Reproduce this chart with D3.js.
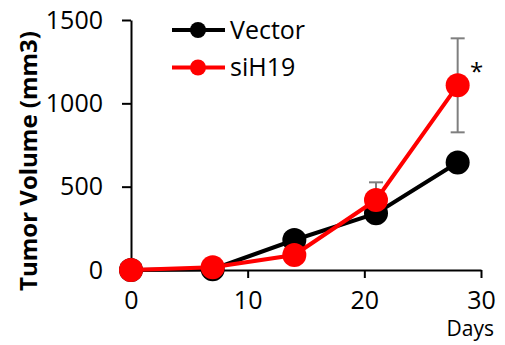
<!DOCTYPE html>
<html>
<head>
<meta charset="utf-8">
<script src="https://cdn.jsdelivr.net/npm/d3@7.9.0/dist/d3.min.js"></script>
<style>
  body { margin: 0; background: #fff; }
  text { font-family: 'Open Sans', sans-serif; }
</style>
</head>
<body>
<div id="chart"></div>
<script>
const days = [0, 7, 14, 21, 28];
const vector = [0, 5, 180, 340, 645];
const siH19 = [0, 16, 90, 420, 1108];
const siH19Err = [0, 0, 0, 106, 282];
const xTicks = [0, 10, 20, 30];
const yTicks = [0, 500, 1000, 1500];

const series = [
  { name: 'Vector', color: '#000000', values: vector },
  { name: 'siH19', color: '#ff0000', values: siH19 },
];

const width = 505;
const height = 345;
const margin = { top: 20, right: 24, bottom: 75, left: 131 };

const svg = d3
  .select('#chart')
  .append('svg')
  .attr('width', width)
  .attr('height', height);

const xScale = d3
  .scaleLinear()
  .domain([0, 30])
  .range([margin.left, width - margin.right]);

const yScale = d3
  .scaleLinear()
  .domain([0, 1500])
  .range([height - margin.bottom, margin.top]);

// axes
const xAxis = svg
  .append('g')
  .attr('transform', `translate(0, ${yScale(0)})`)
  .call(d3.axisBottom(xScale).tickValues(xTicks).tickFormat(d3.format('d'))
    .tickSize(8).tickPadding(12).tickSizeOuter(0));

const yAxis = svg
  .append('g')
  .attr('transform', `translate(${margin.left}, 0)`)
  .call(d3.axisLeft(yScale).tickValues(yTicks).tickFormat(d3.format('d'))
    .tickSize(9).tickPadding(19).tickSizeOuter(0));

[xAxis, yAxis].forEach((ax) => {
  ax.select('.domain').attr('stroke', '#000').attr('stroke-width', 2);
  ax.selectAll('.tick line').attr('stroke', '#000').attr('stroke-width', 2);
  ax.selectAll('.tick text')
    .attr('fill', '#000')
    .style('font-size', '25px');
});
xAxis.selectAll('.tick text').attr('dy', '0.75em');

// axis titles
svg
  .append('text')
  .attr('transform', `translate(37, 161) rotate(-90)`)
  .attr('text-anchor', 'middle')
  .style('font-size', '24px')
  .style('font-weight', 'bold')
  .text('Tumor Volume (mm3)');

svg
  .append('text')
  .attr('x', 494)
  .attr('y', 336)
  .attr('text-anchor', 'end')
  .style('font-size', '21px')
  .text('Days');

// error bars (siH19)
const errs = svg.append('g').attr('class', 'errors');
days.forEach((d, i) => {
  if (!siH19Err[i]) return;
  const x = xScale(d);
  const top = yScale(siH19[i] + siH19Err[i]);
  const bottom = yScale(siH19[i] - siH19Err[i]);
  errs.append('line')
    .attr('x1', x).attr('x2', x).attr('y1', top).attr('y2', bottom)
    .attr('stroke', '#7f7f7f').attr('stroke-width', 2);
  [top, bottom].forEach((y) => {
    errs.append('line')
      .attr('x1', x - 7).attr('x2', x + 7).attr('y1', y).attr('y2', y)
      .attr('stroke', '#7f7f7f').attr('stroke-width', 2);
  });
});

// lines + dots
const line = d3
  .line()
  .x((d, i) => xScale(days[i]))
  .y((d) => yScale(d));

series.forEach((s) => {
  const g = svg.append('g');
  g.append('path')
    .datum(s.values)
    .attr('fill', 'none')
    .attr('stroke', s.color)
    .attr('stroke-width', 4)
    .attr('d', line);
  g.selectAll('circle')
    .data(s.values)
    .join('circle')
    .attr('cx', (d, i) => xScale(days[i]))
    .attr('cy', (d) => yScale(d))
    .attr('r', 12)
    .attr('fill', s.color);
});

// significance marker
svg
  .append('text')
  .attr('x', xScale(28) + 19)
  .attr('y', yScale(1108) - 5)
  .attr('text-anchor', 'middle')
  .style('font-size', '24px')
  .text('*');

// legend
const legend = svg.append('g').attr('class', 'legend');
series.forEach((s, i) => {
  const y = 30 + i * 37.5;
  legend.append('line')
    .attr('x1', 172).attr('x2', 225).attr('y1', y).attr('y2', y)
    .attr('stroke', s.color).attr('stroke-width', 4);
  legend.append('circle')
    .attr('cx', 198).attr('cy', y).attr('r', 8)
    .attr('fill', s.color);
  legend.append('text')
    .attr('x', 230)
    .attr('y', y)
    .attr('dy', '0.35em')
    .style('font-size', '25px')
    .text(s.name);
});
</script>
</body>
</html>
